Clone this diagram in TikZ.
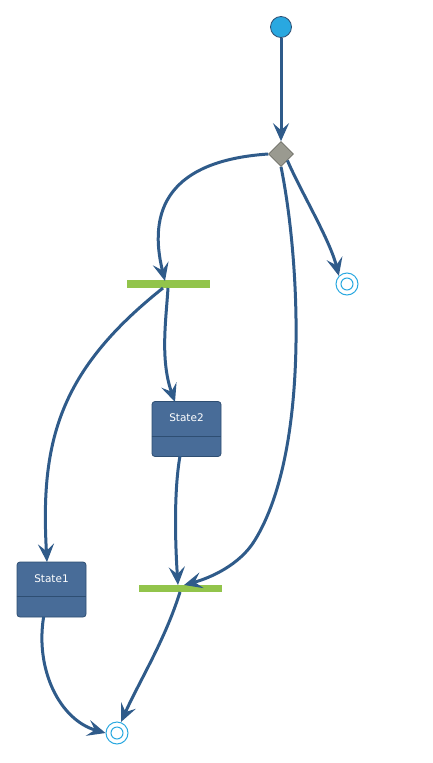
\documentclass[tikz,border=0pt]{standalone}
\usepackage{fontspec}
\setmainfont{DejaVu Sans}
\usetikzlibrary{shapes.geometric,arrows.meta}
\definecolor{edgec}{HTML}{2F5B8A}
\definecolor{initc}{HTML}{29A8E0}
\definecolor{statec}{HTML}{486C98}
\definecolor{stateb}{HTML}{2E4E72}
\definecolor{barc}{HTML}{92C44B}
\definecolor{diac}{HTML}{9A9A90}
\definecolor{diab}{HTML}{6E6E66}
\tikzset{
  x=1pt,y=-1pt,
  edge/.style={draw=edgec,line width=3pt,-{Stealth[length=18pt,width=16pt,inset=7pt]}},
  statebox/.style={draw=stateb,fill=statec,rounded corners=3pt,minimum width=69pt,minimum height=55pt,inner sep=0pt,line width=0.8pt},
  forkbar/.style={fill=barc,draw=none,minimum width=83pt,minimum height=7.5pt,inner sep=0pt},
  initnode/.style={circle,fill=initc,draw=stateb,line width=0.8pt,minimum size=21pt,inner sep=0pt},
  finalnode/.style={circle,draw=initc,line width=1pt,minimum size=22pt,inner sep=0pt,fill=white},
  finalin/.style={circle,draw=initc,line width=1pt,minimum size=12pt,inner sep=0pt},
  decnode/.style={diamond,fill=diac,draw=diab,line width=0.6pt,minimum size=25pt,inner sep=0pt},
  lbl/.style={text=white,font=\fontsize{10.5pt}{12pt}\selectfont}
}
\begin{document}
\begin{tikzpicture}
\useasboundingbox (0,0) rectangle (432,763);
% nodes
\node[initnode] (init) at (281,27) {};
\node[decnode] (dec) at (281,154) {};
\node[finalnode] (fin1) at (347,284) {};
\node[finalin] (fin1i) at (347,284) {};
\node[forkbar] (fork) at (168.5,284) {};
\node[statebox] (s2) at (186.5,429) {};
\node[lbl] (s2t) at (186.5,418) {State2};
\draw[stateb,line width=0.8pt] (s2.west |- 0,436) -- (s2.east |- 0,436);
\node[statebox] (s1) at (51.5,589.5) {};
\node[lbl] (s1t) at (51.5,579) {State1};
\draw[stateb,line width=0.8pt] (s1.west |- 0,596) -- (s1.east |- 0,596);
\node[forkbar] (join) at (180,588.5) {};
\node[finalnode] (fin2) at (117,733) {};
\node[finalin] (fin2i) at (117,733) {};
% edges
\draw[edge] (init.south) -- (dec.north);
\draw[edge] (dec.west) .. controls (180,160) and (145,200) .. (165,281);
\draw[edge] (dec.south east) .. controls (300,190) and (330,240) .. (fin1.north west);
\draw[edge] (dec.south) .. controls (300,260) and (310,450) .. (255,540) .. controls (240,565) and (210,578) .. (184,585);
\draw[edge] (168,288) .. controls (166,320) and (160,360) .. (175,402);
\draw[edge] (163,288) .. controls (60,370) and (40,440) .. (47,562);
\draw[edge] (180,456) .. controls (174,490) and (175,540) .. (178,585);
\draw[edge] (s1.south west |- 0,617) ++(27,0) .. controls (35,670) and (60,720) .. (fin2.west);
\draw[edge] (180,592) .. controls (165,640) and (140,680) .. (121,722);
\end{tikzpicture}
\end{document}
